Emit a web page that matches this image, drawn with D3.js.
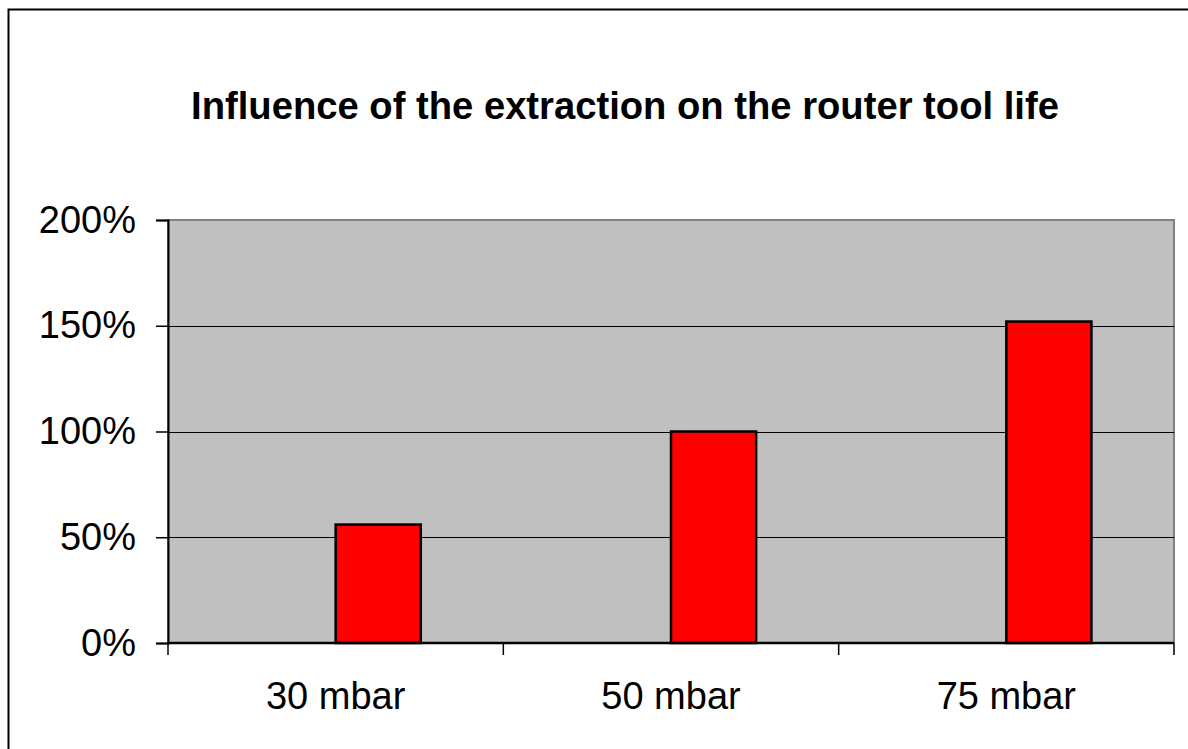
<!DOCTYPE html>
<html>
<head>
<meta charset="utf-8">
<script src="https://cdn.jsdelivr.net/npm/d3@7"></script>
<style>
  body { margin: 0; background: #fff; }
  text { font-family: Arial, "Liberation Sans", sans-serif; fill: #000; }
</style>
</head>
<body>
<svg id="chart" width="1188" height="749"></svg>
<script>
// chart data
const categories = ["30 mbar", "50 mbar", "75 mbar"];
// Excel left an empty first series, so the bars sit in the second slot
const seriesKeys = ["blank", "toolLife"];
const blankValues = [null, null, null];
const toolLifeValues = [0.56, 1.00, 1.52];
const yTicks = [0, 0.5, 1, 1.5, 2];
const titleText = "Influence of the extraction on the router tool life";

const W = 1188, H = 749;
const plot = { left: 168, top: 220, right: 1174, bottom: 643 };

const svg = d3.select("#chart");

// outer chart border (runs off the right and bottom edges)
svg.append("rect")
  .attr("x", 8.5).attr("y", 9.5)
  .attr("width", W + 10).attr("height", H + 10)
  .attr("fill", "#fff")
  .attr("stroke", "#000")
  .attr("stroke-width", 2);

// title
svg.append("text")
  .attr("x", 625)
  .attr("y", 119)
  .attr("text-anchor", "middle")
  .attr("font-size", 38.2)
  .attr("font-weight", "bold")
  .text(titleText);

// scales
const x0 = d3.scaleBand()
  .domain(categories)
  .range([plot.left, plot.right])
  .padding(0);

const x1 = d3.scaleBand()
  .domain(seriesKeys)
  .range([0, x0.bandwidth()])
  .paddingInner(0)
  .paddingOuter(0.97);

const y = d3.scaleLinear()
  .domain([0, 2])
  .range([plot.bottom, plot.top]);

// plot area background
svg.append("rect")
  .attr("x", plot.left).attr("y", plot.top)
  .attr("width", plot.right - plot.left)
  .attr("height", plot.bottom - plot.top)
  .attr("fill", "#c0c0c0")
  .attr("stroke", "#808080")
  .attr("stroke-width", 2);

// gridlines
svg.append("g")
  .selectAll("line")
  .data(yTicks.filter(d => d > 0 && d < 2))
  .enter()
  .append("line")
  .attr("x1", plot.left).attr("x2", plot.right)
  .attr("y1", d => Math.round(y(d)) + 0.5)
  .attr("y2", d => Math.round(y(d)) + 0.5)
  .attr("stroke", "#000")
  .attr("stroke-width", 1);

// bars
const rows = categories.map((c, i) => ({ category: c, blank: blankValues[i], toolLife: toolLifeValues[i] }));
svg.append("g")
  .selectAll("g")
  .data(rows)
  .enter()
  .append("g")
  .attr("transform", d => "translate(" + x0(d.category) + ",0)")
  .selectAll("rect")
  .data(d => seriesKeys.filter(k => d[k] != null).map(k => ({ key: k, value: d[k] })))
  .enter()
  .append("rect")
  .attr("x", d => x1(d.key))
  .attr("y", d => y(d.value))
  .attr("width", x1.bandwidth())
  .attr("height", d => y(0) - y(d.value))
  .attr("fill", "#ff0000")
  .attr("stroke", "#000")
  .attr("stroke-width", 2.5);

// y axis
const yAxis = svg.append("g")
  .attr("transform", "translate(" + plot.left + ",0)")
  .call(d3.axisLeft(y).tickValues(yTicks).tickFormat(d3.format(".0%")).tickSize(12).tickPadding(20));
yAxis.select(".domain").attr("stroke", "#000").attr("stroke-width", 2);
yAxis.selectAll(".tick line").attr("stroke", "#000").attr("stroke-width", 1.5);
yAxis.selectAll("text")
  .attr("font-size", 38)
  .attr("font-family", "Arial, 'Liberation Sans', sans-serif")
  .attr("fill", "#000");

// x axis: ticks at category boundaries
const xAxis = svg.append("g")
  .attr("transform", "translate(0," + plot.bottom + ")");
xAxis.append("line")
  .attr("x1", plot.left).attr("x2", plot.right)
  .attr("y1", 0).attr("y2", 0)
  .attr("stroke", "#000").attr("stroke-width", 2.5);
const boundaries = categories.map(c => x0(c)).concat([x0(categories[categories.length - 1]) + x0.bandwidth()]);
xAxis.selectAll("line.tick")
  .data(boundaries)
  .enter()
  .append("line")
  .attr("class", "tick")
  .attr("x1", d => d).attr("x2", d => d)
  .attr("y1", 0).attr("y2", 12)
  .attr("stroke", "#000").attr("stroke-width", 1.5);
xAxis.selectAll("text")
  .data(categories)
  .enter()
  .append("text")
  .attr("x", d => x0(d) + x0.bandwidth() / 2)
  .attr("y", 54)
  .attr("dy", "0.32em")
  .attr("text-anchor", "middle")
  .attr("font-size", 38)
  .text(d => d);
</script>
</body>
</html>
